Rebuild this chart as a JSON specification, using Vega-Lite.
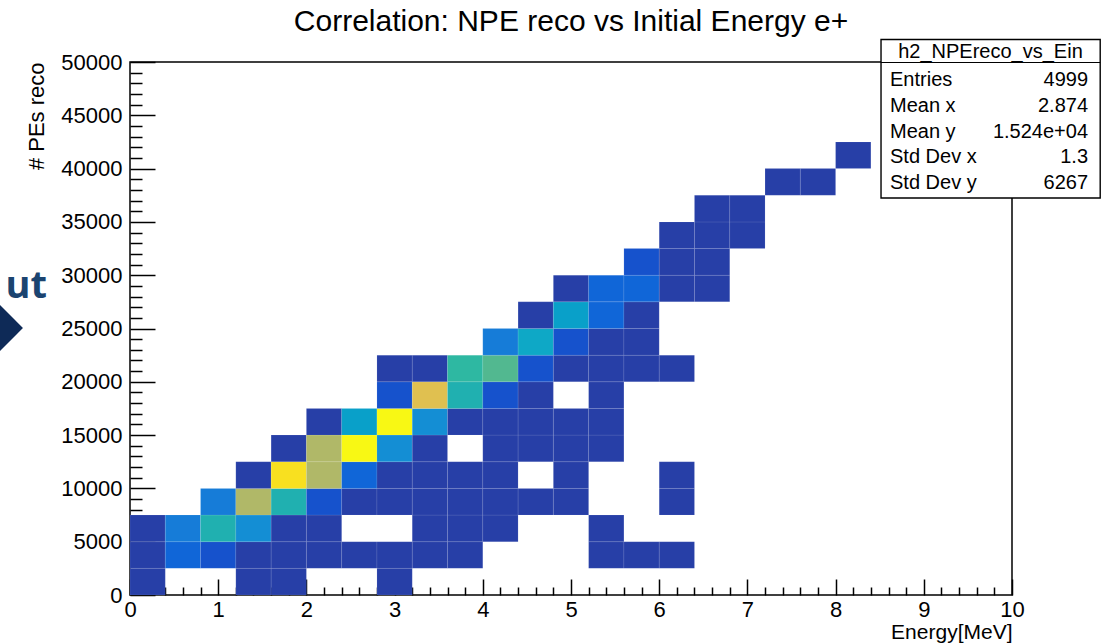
{
  "$schema": "https://vega.github.io/schema/vega-lite/v6.json",
  "autosize": {"type": "none"},
  "padding": {"left": 130, "top": 62, "right": 103, "bottom": 49},
  "width": 882,
  "height": 533,
  "background": "white",
  "title": {"text": "Correlation: NPE reco vs Initial Energy e+", "fontSize": 30, "fontWeight": "normal", "font": "Liberation Sans", "color": "black", "anchor": "middle", "offset": 2},
  "config": {
    "font": "Liberation Sans",
    "view": {"stroke": "black", "strokeWidth": 1.5}
  },
  "datasets": {
    "cells": [
      {"e0": 0, "e1": 0.4, "n0": 0, "n1": 2500, "count": 14},
      {"e0": 1.2, "e1": 1.6, "n0": 0, "n1": 2500, "count": 6},
      {"e0": 1.6, "e1": 2, "n0": 0, "n1": 2500, "count": 5},
      {"e0": 2.8, "e1": 3.2, "n0": 0, "n1": 2500, "count": 2},
      {"e0": 0, "e1": 0.4, "n0": 2500, "n1": 5000, "count": 16},
      {"e0": 0.4, "e1": 0.8, "n0": 2500, "n1": 5000, "count": 62},
      {"e0": 0.8, "e1": 1.2, "n0": 2500, "n1": 5000, "count": 45},
      {"e0": 1.2, "e1": 1.6, "n0": 2500, "n1": 5000, "count": 11},
      {"e0": 1.6, "e1": 2, "n0": 2500, "n1": 5000, "count": 8},
      {"e0": 2, "e1": 2.4, "n0": 2500, "n1": 5000, "count": 10},
      {"e0": 2.4, "e1": 2.8, "n0": 2500, "n1": 5000, "count": 9},
      {"e0": 2.8, "e1": 3.2, "n0": 2500, "n1": 5000, "count": 8},
      {"e0": 3.2, "e1": 3.6, "n0": 2500, "n1": 5000, "count": 6},
      {"e0": 3.6, "e1": 4, "n0": 2500, "n1": 5000, "count": 4},
      {"e0": 5.2, "e1": 5.6, "n0": 2500, "n1": 5000, "count": 2},
      {"e0": 5.6, "e1": 6, "n0": 2500, "n1": 5000, "count": 1},
      {"e0": 6, "e1": 6.4, "n0": 2500, "n1": 5000, "count": 1},
      {"e0": 0, "e1": 0.4, "n0": 5000, "n1": 7500, "count": 13},
      {"e0": 0.4, "e1": 0.8, "n0": 5000, "n1": 7500, "count": 85},
      {"e0": 0.8, "e1": 1.2, "n0": 5000, "n1": 7500, "count": 152},
      {"e0": 1.2, "e1": 1.6, "n0": 5000, "n1": 7500, "count": 95},
      {"e0": 1.6, "e1": 2, "n0": 5000, "n1": 7500, "count": 17},
      {"e0": 2, "e1": 2.4, "n0": 5000, "n1": 7500, "count": 11},
      {"e0": 3.2, "e1": 3.6, "n0": 5000, "n1": 7500, "count": 7},
      {"e0": 3.6, "e1": 4, "n0": 5000, "n1": 7500, "count": 5},
      {"e0": 4, "e1": 4.4, "n0": 5000, "n1": 7500, "count": 3},
      {"e0": 5.2, "e1": 5.6, "n0": 5000, "n1": 7500, "count": 1},
      {"e0": 0.8, "e1": 1.2, "n0": 7500, "n1": 10000, "count": 80},
      {"e0": 1.2, "e1": 1.6, "n0": 7500, "n1": 10000, "count": 242},
      {"e0": 1.6, "e1": 2, "n0": 7500, "n1": 10000, "count": 152},
      {"e0": 2, "e1": 2.4, "n0": 7500, "n1": 10000, "count": 45},
      {"e0": 2.4, "e1": 2.8, "n0": 7500, "n1": 10000, "count": 17},
      {"e0": 2.8, "e1": 3.2, "n0": 7500, "n1": 10000, "count": 14},
      {"e0": 3.2, "e1": 3.6, "n0": 7500, "n1": 10000, "count": 12},
      {"e0": 3.6, "e1": 4, "n0": 7500, "n1": 10000, "count": 9},
      {"e0": 4, "e1": 4.4, "n0": 7500, "n1": 10000, "count": 6},
      {"e0": 4.4, "e1": 4.8, "n0": 7500, "n1": 10000, "count": 3},
      {"e0": 4.8, "e1": 5.2, "n0": 7500, "n1": 10000, "count": 2},
      {"e0": 6, "e1": 6.4, "n0": 7500, "n1": 10000, "count": 1},
      {"e0": 1.2, "e1": 1.6, "n0": 10000, "n1": 12500, "count": 12},
      {"e0": 1.6, "e1": 2, "n0": 10000, "n1": 12500, "count": 320},
      {"e0": 2, "e1": 2.4, "n0": 10000, "n1": 12500, "count": 245},
      {"e0": 2.4, "e1": 2.8, "n0": 10000, "n1": 12500, "count": 70},
      {"e0": 2.8, "e1": 3.2, "n0": 10000, "n1": 12500, "count": 16},
      {"e0": 3.2, "e1": 3.6, "n0": 10000, "n1": 12500, "count": 14},
      {"e0": 3.6, "e1": 4, "n0": 10000, "n1": 12500, "count": 10},
      {"e0": 4, "e1": 4.4, "n0": 10000, "n1": 12500, "count": 7},
      {"e0": 4.8, "e1": 5.2, "n0": 10000, "n1": 12500, "count": 2},
      {"e0": 6, "e1": 6.4, "n0": 10000, "n1": 12500, "count": 1},
      {"e0": 1.6, "e1": 2, "n0": 12500, "n1": 15000, "count": 9},
      {"e0": 2, "e1": 2.4, "n0": 12500, "n1": 15000, "count": 240},
      {"e0": 2.4, "e1": 2.8, "n0": 12500, "n1": 15000, "count": 352},
      {"e0": 2.8, "e1": 3.2, "n0": 12500, "n1": 15000, "count": 100},
      {"e0": 3.2, "e1": 3.6, "n0": 12500, "n1": 15000, "count": 17},
      {"e0": 4, "e1": 4.4, "n0": 12500, "n1": 15000, "count": 11},
      {"e0": 4.4, "e1": 4.8, "n0": 12500, "n1": 15000, "count": 6},
      {"e0": 4.8, "e1": 5.2, "n0": 12500, "n1": 15000, "count": 4},
      {"e0": 5.2, "e1": 5.6, "n0": 12500, "n1": 15000, "count": 2},
      {"e0": 2, "e1": 2.4, "n0": 15000, "n1": 17500, "count": 8},
      {"e0": 2.4, "e1": 2.8, "n0": 15000, "n1": 17500, "count": 116},
      {"e0": 2.8, "e1": 3.2, "n0": 15000, "n1": 17500, "count": 356},
      {"e0": 3.2, "e1": 3.6, "n0": 15000, "n1": 17500, "count": 102},
      {"e0": 3.6, "e1": 4, "n0": 15000, "n1": 17500, "count": 17},
      {"e0": 4, "e1": 4.4, "n0": 15000, "n1": 17500, "count": 15},
      {"e0": 4.4, "e1": 4.8, "n0": 15000, "n1": 17500, "count": 12},
      {"e0": 4.8, "e1": 5.2, "n0": 15000, "n1": 17500, "count": 6},
      {"e0": 5.2, "e1": 5.6, "n0": 15000, "n1": 17500, "count": 3},
      {"e0": 2.8, "e1": 3.2, "n0": 17500, "n1": 20000, "count": 45},
      {"e0": 3.2, "e1": 3.6, "n0": 17500, "n1": 20000, "count": 278},
      {"e0": 3.6, "e1": 4, "n0": 17500, "n1": 20000, "count": 152},
      {"e0": 4, "e1": 4.4, "n0": 17500, "n1": 20000, "count": 46},
      {"e0": 4.4, "e1": 4.8, "n0": 17500, "n1": 20000, "count": 16},
      {"e0": 5.2, "e1": 5.6, "n0": 17500, "n1": 20000, "count": 4},
      {"e0": 2.8, "e1": 3.2, "n0": 20000, "n1": 22500, "count": 5},
      {"e0": 3.2, "e1": 3.6, "n0": 20000, "n1": 22500, "count": 14},
      {"e0": 3.6, "e1": 4, "n0": 20000, "n1": 22500, "count": 170},
      {"e0": 4, "e1": 4.4, "n0": 20000, "n1": 22500, "count": 188},
      {"e0": 4.4, "e1": 4.8, "n0": 20000, "n1": 22500, "count": 44},
      {"e0": 4.8, "e1": 5.2, "n0": 20000, "n1": 22500, "count": 15},
      {"e0": 5.2, "e1": 5.6, "n0": 20000, "n1": 22500, "count": 9},
      {"e0": 5.6, "e1": 6, "n0": 20000, "n1": 22500, "count": 5},
      {"e0": 6, "e1": 6.4, "n0": 20000, "n1": 22500, "count": 2},
      {"e0": 4, "e1": 4.4, "n0": 22500, "n1": 25000, "count": 88},
      {"e0": 4.4, "e1": 4.8, "n0": 22500, "n1": 25000, "count": 134},
      {"e0": 4.8, "e1": 5.2, "n0": 22500, "n1": 25000, "count": 45},
      {"e0": 5.2, "e1": 5.6, "n0": 22500, "n1": 25000, "count": 14},
      {"e0": 5.6, "e1": 6, "n0": 22500, "n1": 25000, "count": 6},
      {"e0": 4.4, "e1": 4.8, "n0": 25000, "n1": 27500, "count": 13},
      {"e0": 4.8, "e1": 5.2, "n0": 25000, "n1": 27500, "count": 118},
      {"e0": 5.2, "e1": 5.6, "n0": 25000, "n1": 27500, "count": 64},
      {"e0": 5.6, "e1": 6, "n0": 25000, "n1": 27500, "count": 11},
      {"e0": 4.8, "e1": 5.2, "n0": 27500, "n1": 30000, "count": 10},
      {"e0": 5.2, "e1": 5.6, "n0": 27500, "n1": 30000, "count": 62},
      {"e0": 5.6, "e1": 6, "n0": 27500, "n1": 30000, "count": 63},
      {"e0": 6, "e1": 6.4, "n0": 27500, "n1": 30000, "count": 8},
      {"e0": 6.4, "e1": 6.8, "n0": 27500, "n1": 30000, "count": 3},
      {"e0": 5.6, "e1": 6, "n0": 30000, "n1": 32500, "count": 42},
      {"e0": 6, "e1": 6.4, "n0": 30000, "n1": 32500, "count": 12},
      {"e0": 6.4, "e1": 6.8, "n0": 30000, "n1": 32500, "count": 7},
      {"e0": 6, "e1": 6.4, "n0": 32500, "n1": 35000, "count": 9},
      {"e0": 6.4, "e1": 6.8, "n0": 32500, "n1": 35000, "count": 10},
      {"e0": 6.8, "e1": 7.2, "n0": 32500, "n1": 35000, "count": 5},
      {"e0": 6.4, "e1": 6.8, "n0": 35000, "n1": 37500, "count": 6},
      {"e0": 6.8, "e1": 7.2, "n0": 35000, "n1": 37500, "count": 8},
      {"e0": 7.2, "e1": 7.6, "n0": 37500, "n1": 40000, "count": 6},
      {"e0": 7.6, "e1": 8, "n0": 37500, "n1": 40000, "count": 4},
      {"e0": 8, "e1": 8.4, "n0": 40000, "n1": 42500, "count": 3}
    ],
    "stats": [
      {"stat": "Entries", "value": "4999"},
      {"stat": "Mean x", "value": "2.874"},
      {"stat": "Mean y", "value": "1.524e+04"},
      {"stat": "Std Dev x", "value": "1.3"},
      {"stat": "Std Dev y", "value": "6267"}
    ],
    "one": [{"name": "h2_NPEreco_vs_Ein"}]
  },
  "layer": [
    {
      "layer": [
        {
          "data": {"name": "cells"},
          "mark": {"type": "rect", "stroke": "#ffffff", "strokeWidth": 0.6, "strokeOpacity": 0.15},
          "encoding": {
            "x": {
              "field": "e0", "type": "quantitative",
              "scale": {"domain": [0, 10], "nice": false, "zero": false},
              "axis": {
                "values": [0,0.2,0.4,0.6,0.8,1,1.2,1.4,1.6,1.8,2,2.2,2.4,2.6,2.8,3,3.2,3.4,3.6,3.8,4,4.2,4.4,4.6,4.8,5,5.2,5.4,5.6,5.8,6,6.2,6.4,6.6,6.8,7,7.2,7.4,7.6,7.8,8,8.2,8.4,8.6,8.8,9,9.2,9.4,9.6,9.8,10],
                "tickCount": 200,
                "labelExpr": "abs(datum.value - round(datum.value)) < 0.001 ? format(datum.value, 'd') : ''",
                "labelOverlap": false,
                "labelFlush": false,
                "labelFontSize": 22,
                "labelColor": "black",
                "labelPadding": 20,
                "tickSize": {"condition": {"test": "abs(datum.value - round(datum.value)) < 0.001", "value": -16}, "value": -8},
                "tickColor": "black",
                "tickWidth": 1.5,
                "domain": false,
                "grid": false,
                "title": "Energy[MeV]",
                "titleFontSize": 21,
                "titleFontWeight": "normal",
                "titleColor": "black",
                "titleAnchor": "end",
                "titleBaseline": "alphabetic",
                "titleY": 43
              }
            },
            "x2": {"field": "e1"},
            "y": {
              "field": "n0", "type": "quantitative",
              "scale": {"domain": [0, 50000], "nice": false, "zero": false},
              "axis": {
                "values": [0,1000,2000,3000,4000,5000,6000,7000,8000,9000,10000,11000,12000,13000,14000,15000,16000,17000,18000,19000,20000,21000,22000,23000,24000,25000,26000,27000,28000,29000,30000,31000,32000,33000,34000,35000,36000,37000,38000,39000,40000,41000,42000,43000,44000,45000,46000,47000,48000,49000,50000],
                "tickCount": 200,
                "labelExpr": "datum.value % 5000 === 0 ? format(datum.value, 'd') : ''",
                "labelOverlap": false,
                "labelFlush": false,
                "labelFontSize": 22,
                "labelColor": "black",
                "labelPadding": 33,
                "tickSize": {"condition": {"test": "datum.value % 5000 === 0", "value": -25}, "value": -12},
                "tickColor": "black",
                "tickWidth": 1.5,
                "domain": false,
                "grid": false,
                "title": "# PEs reco",
                "titleFontSize": 22,
                "titleFontWeight": "normal",
                "titleColor": "black",
                "titleAnchor": "end",
                "titleBaseline": "alphabetic",
                "titleX": -87
              }
            },
            "y2": {"field": "n1"},
            "color": {
              "field": "count", "type": "quantitative",
              "scale": {"type": "quantize", "domain": [0, 360], "nice": false,
                "range": ["#273FA7","#1E48BA","#1652CC","#1066D8","#167CD8","#148ED4","#09A0C9","#0EA8C6","#20B0B0","#2EB8A2","#52B890","#70B980","#92B973","#B0B868","#C8BC5A","#E0C050","#EECC3C","#F8E020","#F8EC1C","#F8F814"]},
              "legend": null
            }
          }
        },
        {
          "data": {"name": "one"},
          "mark": {"type": "rect", "fill": "white", "stroke": "black", "strokeWidth": 1.4},
          "encoding": {
            "x": {"datum": 8.515, "type": "quantitative"},
            "x2": {"datum": 11.0},
            "y": {"datum": 52112, "type": "quantitative"},
            "y2": {"datum": 37243}
          }
        },
        {
          "data": {"name": "one"},
          "mark": {"type": "rule", "stroke": "black", "strokeWidth": 1.2},
          "encoding": {
            "x": {"datum": 8.515, "type": "quantitative"},
            "x2": {"datum": 11.0},
            "y": {"datum": 49955, "type": "quantitative"}
          }
        },
        {
          "data": {"name": "one"},
          "mark": {"type": "text", "fontSize": 20, "font": "Liberation Sans", "color": "black", "align": "center", "baseline": "middle"},
          "encoding": {
            "x": {"datum": 9.756, "type": "quantitative"},
            "y": {"datum": 50939, "type": "quantitative"},
            "text": {"field": "name"}
          }
        },
        {
          "data": {"name": "one"},
          "mark": {"type": "text", "text": "ut", "fontSize": 38, "font": "Open Sans", "fontWeight": "bold", "color": "#1B4470", "align": "right", "baseline": "alphabetic"},
          "encoding": {
            "x": {"datum": -0.941, "type": "quantitative"},
            "y": {"datum": 27862, "type": "quantitative"}
          }
        },
        {
          "data": {"name": "one"},
          "mark": {"type": "point", "shape": "diamond", "size": 2500, "filled": true, "color": "#0E2A57", "opacity": 1},
          "encoding": {
            "x": {"datum": -1.497, "type": "quantitative"},
            "y": {"datum": 25047, "type": "quantitative"}
          }
        }
      ]
    },
    {
      "data": {"name": "stats"},
      "encoding": {
        "y": {"field": "stat", "type": "ordinal", "scale": {"type": "point", "domain": ["Entries", "Mean x", "Mean y", "Std Dev x", "Std Dev y"], "range": [18, 121], "padding": 0}, "axis": null}
      },
      "layer": [
        {
          "mark": {"type": "text", "fontSize": 20, "font": "Liberation Sans", "color": "black", "align": "left", "baseline": "middle"},
          "encoding": {
            "x": {"datum": 8.617, "type": "quantitative"},
            "text": {"field": "stat"}
          }
        },
        {
          "mark": {"type": "text", "fontSize": 20, "font": "Liberation Sans", "color": "black", "align": "right", "baseline": "middle"},
          "encoding": {
            "x": {"datum": 10.862, "type": "quantitative"},
            "text": {"field": "value"}
          }
        }
      ]
    }
  ],
  "resolve": {"scale": {"y": "independent"}}
}
